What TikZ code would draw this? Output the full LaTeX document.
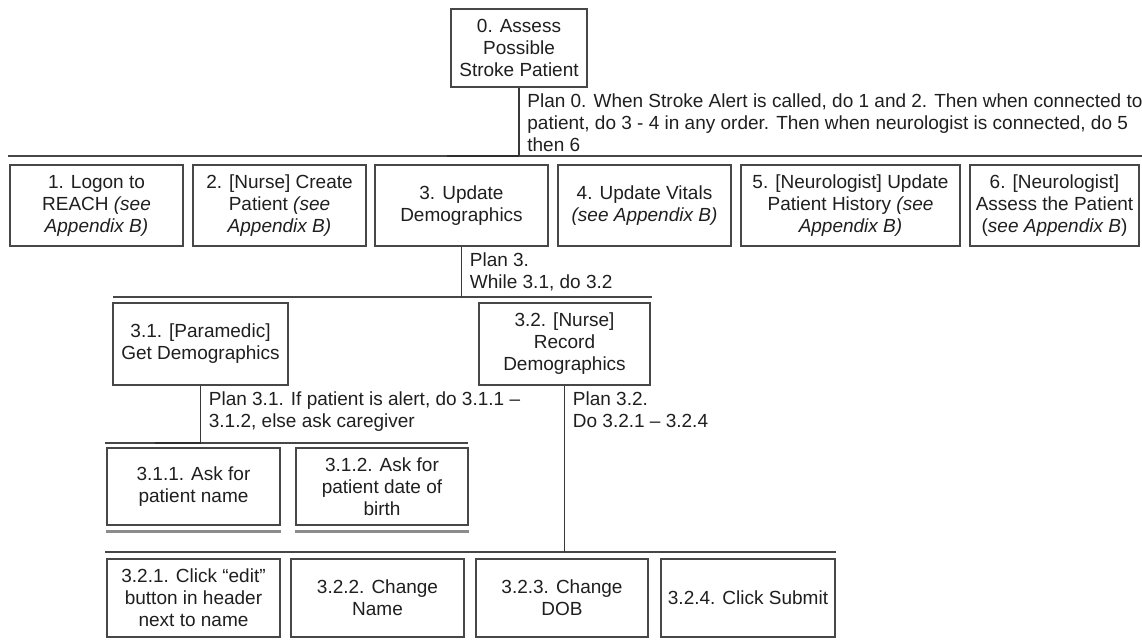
\documentclass[tikz,border=0pt]{standalone}
\usepackage{fontspec}
\setmainfont{Liberation Sans}
% task box from its corners (in pixel units of the picture)
\newcommand{\taskbox}[6]{%
  \node[task, minimum width={(#4-#2)*0.5pt}, minimum height={(#5-#3)*0.5pt}]
    (#1) at ({(#2+#4)/2},{(#3+#5)/2}) {#6};}
\begin{document}
\begin{tikzpicture}[x=0.5pt,y=-0.5pt,
  font=\fontsize{9.5}{11}\selectfont,
  task/.style={draw=black!72, line width=0.8pt, fill=white, align=center,
    inner sep=0pt, text=black!88},
  plantext/.style={anchor=north west, align=left, inner sep=0pt, text=black!88},
  bar/.style={draw=black!72, line width=0.8pt},
  link/.style={draw=black!78, line width=0.8pt},
  joint/.style={draw=black!82, line width=1.15pt},
  leafline/.style={draw=black!45, line width=1.4pt}]
\useasboundingbox (0,0) rectangle (1142,640);

% top task
\taskbox{t0}{451}{9}{587}{87}{0. Assess\\Possible\\Stroke Patient}

% level 1
\taskbox{t1}{10}{165}{183}{246}{1. Logon to\\REACH \textit{(see}\\\textit{Appendix B)}}
\taskbox{t2}{193}{165}{366}{246}{2. [Nurse] Create\\Patient \textit{(see}\\\textit{Appendix B)}}
\taskbox{t3}{375}{165}{548}{246}{3. Update\\Demographics}
\taskbox{t4}{558}{165}{731}{246}{4. Update Vitals\\\textit{(see Appendix B)}}
\taskbox{t5}{741}{165}{960}{246}{5. [Neurologist] Update\\Patient History \textit{(see}\\\textit{Appendix B)}}
\taskbox{t6}{970}{165}{1139}{246}{6. [Neurologist]\\Assess the Patient\\(\textit{see Appendix B})}

% level 2
\taskbox{t31}{113}{303}{288}{385}{3.1. [Paramedic]\\Get Demographics}
\taskbox{t32}{479}{303}{650}{385}{3.2. [Nurse]\\Record\\Demographics}

% level 3
\taskbox{t311}{107}{448}{280}{525}{3.1.1. Ask for\\patient name}
\taskbox{t312}{296}{448}{468}{525}{3.1.2. Ask for\\patient date of\\birth}
\taskbox{t321}{107}{559}{280}{637}{3.2.1. Click “edit”\\button in header\\next to name}
\taskbox{t322}{291}{559}{464}{637}{3.2.2. Change\\Name}
\taskbox{t323}{476}{559}{648}{637}{3.2.3. Change\\DOB}
\taskbox{t324}{661}{559}{835}{637}{3.2.4. Click Submit}

% horizontal bars below each plan
\coordinate (bar1w) at (8,156);    \coordinate (bar1e) at (1142,156);
\coordinate (bar2w) at (113,297);  \coordinate (bar2e) at (652,297);
\coordinate (bar3w) at (105,443);  \coordinate (bar3e) at (468,443);
\coordinate (bar4w) at (105,552);  \coordinate (bar4e) at (836,552);
\draw[bar] (bar1w) -- (bar1e);
\draw[bar] (bar2w) -- (bar2e);
\draw[bar] (bar3w) -- (bar3e);
\draw[bar] (bar4w) -- (bar4e);

% connectors from each parent down to its bar
\coordinate (j0) at (447,156);
\coordinate (j31) at (155,443);
\draw[link] (t0.south) -- (t0.south |- bar1w);
\draw[joint] (j0) -- (t0.south |- bar1w);
\draw[link] (t3.south) -- (t3.south |- bar2w);
\draw[link] (t31.south) -- (t31.south |- bar3w);
\draw[joint] (j31) -- (t31.south |- bar3w);
\draw[link] (t32.south) -- (t32.south |- bar4w);

% leaf markers under the tasks 3.1.1 and 3.1.2
\draw[leafline] ([yshift=-3pt]t311.south west) -- ([yshift=-3pt]t311.south east);
\draw[leafline] ([yshift=-3pt]t312.south west) -- ([yshift=-3pt]t312.south east);

% plans
\node[plantext] (p0) at ([xshift=4pt,yshift=-3pt]t0.south) {Plan 0. When Stroke Alert is called, do 1 and 2. Then when connected to\\patient, do 3 - 4 in any order. Then when neurologist is connected, do 5\\then 6};
\node[plantext] (p3) at ([xshift=4pt,yshift=-3pt]t3.south) {Plan 3.\\While 3.1, do 3.2};
\node[plantext] (p31) at ([xshift=4pt,yshift=-3pt]t31.south) {Plan 3.1. If patient is alert, do 3.1.1 –\\3.1.2, else ask caregiver};
\node[plantext] (p32) at ([xshift=4pt,yshift=-3pt]t32.south) {Plan 3.2.\\Do 3.2.1 – 3.2.4};
\end{tikzpicture}
\end{document}
